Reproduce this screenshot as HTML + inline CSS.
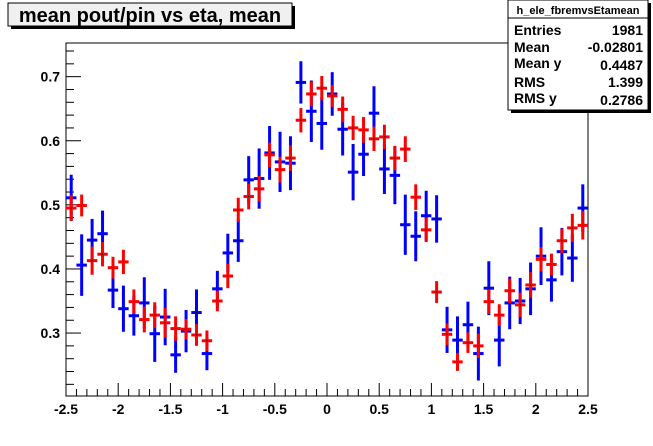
<!DOCTYPE html>
<html><head><meta charset="utf-8">
<style>
html,body{margin:0;padding:0;background:#fff;}
svg text{font-family:"Liberation Sans",Arial,sans-serif;font-weight:bold;}
</style></head>
<body>
<svg id="c" width="653" height="441" xmlns="http://www.w3.org/2000/svg">
  <rect x="0" y="0" width="653" height="441" fill="#fff"/>
  <g>
    <rect x="11" y="6" width="284" height="23" fill="#000"/>
    <rect x="8" y="3" width="284" height="23" fill="#f0f0f0" stroke="#000" stroke-width="1"/>
    <text x="150" y="22" font-size="20" text-anchor="middle">mean pout/pin vs eta, mean</text>
  </g>
  <g id="axes"></g>
  <g id="series"></g>
  <g>
    <rect x="511" y="3" width="140" height="110" fill="#000"/>
    <rect x="508" y="0" width="140" height="110" fill="#fff" stroke="#000"/>
    <line x1="508" y1="18" x2="648" y2="18" stroke="#000"/>
    <text x="578" y="14" font-size="11" text-anchor="middle">h_ele_fbremvsEtamean</text>
    <text x="514" y="35" font-size="14">Entries</text>
    <text x="643" y="35" font-size="14" text-anchor="end">1981</text>
    <text x="514" y="52" font-size="14">Mean</text>
    <text x="643" y="52" font-size="14" text-anchor="end">-0.02801</text>
    <text x="514" y="68" font-size="14">Mean y</text>
    <text x="643" y="70" font-size="14" text-anchor="end">0.4487</text>
    <text x="514" y="87" font-size="14">RMS</text>
    <text x="643" y="87" font-size="14" text-anchor="end">1.399</text>
    <text x="514" y="103" font-size="14">RMS y</text>
    <text x="643" y="105" font-size="14" text-anchor="end">0.2786</text>
  </g>
</svg>
<script>
const xTicks = [-2.5,-2,-1.5,-1,-0.5,0,0.5,1,1.5,2,2.5];
const xTickLabels = ["-2.5","-2","-1.5","-1","-0.5","0","0.5","1","1.5","2","2.5"];
const yTicks = [0.3,0.4,0.5,0.6,0.7];
const yTickLabels = ["0.3","0.4","0.5","0.6","0.7"];
const binCenters = [-2.45,-2.35,-2.25,-2.15,-2.05,-1.95,-1.85,-1.75,-1.65,-1.55,-1.45,-1.35,-1.25,-1.15,-1.05,-0.95,-0.85,-0.75,-0.65,-0.55,-0.45,-0.35,-0.25,-0.15,-0.05,0.05,0.15,0.25,0.35,0.45,0.55,0.65,0.75,0.85,0.95,1.05,1.15,1.25,1.35,1.45,1.55,1.65,1.75,1.85,1.95,2.05,2.15,2.25,2.35,2.45];
const blueValues = [0.511,0.406,0.445,0.455,0.367,0.338,0.327,0.347,0.299,0.325,0.266,0.303,0.332,0.268,0.369,0.425,0.444,0.539,0.541,0.581,0.567,0.565,0.691,0.646,0.627,0.673,0.618,0.551,0.579,0.643,0.556,0.546,0.469,0.451,0.483,0.478,0.305,0.289,0.313,0.268,0.370,0.289,0.347,0.350,0.369,0.420,0.383,0.427,0.417,0.495];
const blueErrors = [0.036,0.048,0.033,0.036,0.028,0.036,0.031,0.040,0.044,0.044,0.028,0.033,0.036,0.026,0.028,0.030,0.033,0.037,0.047,0.042,0.047,0.042,0.033,0.048,0.041,0.034,0.041,0.044,0.034,0.042,0.039,0.045,0.047,0.039,0.039,0.037,0.036,0.037,0.036,0.042,0.042,0.041,0.041,0.036,0.041,0.045,0.034,0.037,0.037,0.037];
const redValues = [0.495,0.499,0.413,0.423,0.402,0.411,0.349,0.321,0.328,0.316,0.307,0.306,0.297,0.288,0.350,0.389,0.492,0.513,0.525,0.578,0.555,0.573,0.632,0.673,0.682,0.670,0.649,0.620,0.617,0.603,0.606,0.573,0.587,0.512,0.461,0.364,0.298,0.255,0.285,0.280,0.349,0.328,0.366,0.344,0.375,0.415,0.407,0.444,0.464,0.468];
const redErrors = [0.020,0.017,0.022,0.019,0.017,0.019,0.019,0.020,0.020,0.023,0.019,0.016,0.017,0.016,0.016,0.019,0.019,0.020,0.020,0.019,0.020,0.020,0.019,0.019,0.019,0.017,0.020,0.019,0.020,0.019,0.019,0.019,0.020,0.020,0.019,0.017,0.017,0.014,0.016,0.019,0.019,0.017,0.019,0.019,0.020,0.019,0.017,0.019,0.022,0.022];

const X0=66, X1=588, Y0=396, Y1=43, XMIN=-2.5, XMAX=2.5, YMIN=0.2018, YMAX=0.7525;
const NS='http://www.w3.org/2000/svg';
function sx(v){return X0+(v-XMIN)/(XMAX-XMIN)*(X1-X0);}
function sy(v){return Y0-(v-YMIN)/(YMAX-YMIN)*(Y0-Y1);}
function mk(tag,attrs,parent){const e=document.createElementNS(NS,tag);for(const k in attrs)e.setAttribute(k,attrs[k]);parent.appendChild(e);return e;}

const axes=document.getElementById('axes');
const frame=mk('rect',{x:X0,y:Y1,width:X1-X0,height:Y0-Y1,fill:'none',stroke:'#000','stroke-width':1},axes);


for(let i=0;i<=50;i++){
  const v=XMIN+i*0.1; const x=sx(v); const major=(i%5===0);
  const t=mk('line',{x1:x,y1:Y0,x2:x,y2:Y0-(major?13:7),stroke:'#000'},axes);
  
  
}
xTicks.forEach((v,i)=>{
  const t=mk('text',{x:sx(v),y:414,'font-size':14,'text-anchor':'middle'},axes);
  t.textContent=xTickLabels[i];
  
  
});
for(let v=0.22;v<YMAX;v+=0.02){
  const y=sy(v); const major=Math.abs(v*10-Math.round(v*10))<1e-6;
  const t=mk('line',{x1:X0,y1:y,x2:X0+(major?15:8),y2:y,stroke:'#000'},axes);
  
  
}
yTicks.forEach((v,i)=>{
  const t=mk('text',{x:60,y:sy(v)+5,'font-size':14,'text-anchor':'end'},axes);
  t.textContent=yTickLabels[i];
  
  
});

const series=document.getElementById('series');
function draw(vals,errs,color,name){
  const g=mk('g',{},series);
  
  
  const hw=(sx(0.1)-sx(0))/2;
  vals.forEach((v,i)=>{
    const x=sx(binCenters[i]), y=sy(v);
    const p=mk('g',{},g);
    
    
    mk('line',{x1:x,y1:sy(v+errs[i]),x2:x,y2:sy(v-errs[i]),stroke:color,'stroke-width':3},p);
    mk('line',{x1:x-hw,y1:y,x2:x+hw,y2:y,stroke:color,'stroke-width':3},p);
    mk('rect',{x:x-0.5,y:y-0.5,width:1,height:1,fill:'#000'},p);
  });
}
draw(blueValues,blueErrors,'#0000ff','blue');
draw(redValues,redErrors,'#ff0000','red');
</script>
</body></html>
